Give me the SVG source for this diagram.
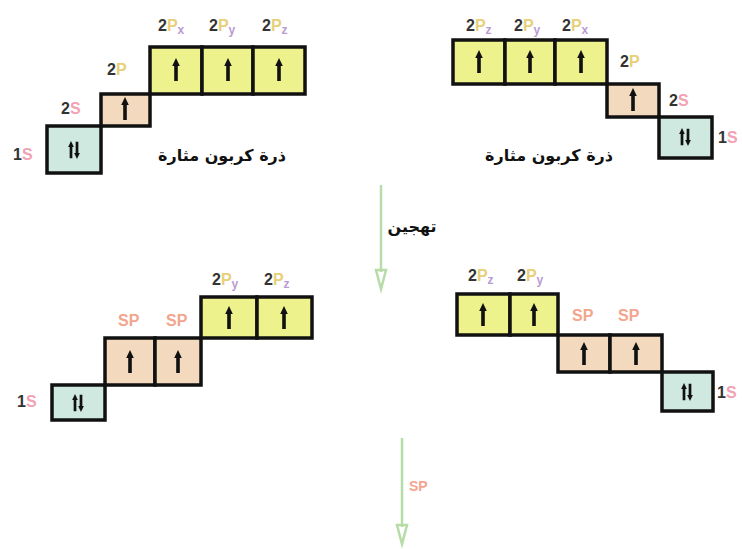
<svg xmlns="http://www.w3.org/2000/svg" width="742" height="549" viewBox="0 0 742 549">
<style>
.bx{stroke:#111;stroke-width:3.5}
.y{fill:#eef28c}.p{fill:#f3d9bd}.t{fill:#cfe9e1}
.lb{font-family:"Liberation Sans",Arial,sans-serif;font-weight:bold;font-size:16px;fill:#333}
.P{fill:#e8cf78}.sub{fill:#b99bd2;font-size:12px}
.S{fill:#f2a2b4}.sp{fill:#f3a58e}
.ar{font-family:"DejaVu Sans","Noto Sans",sans-serif;font-weight:bold;font-size:16px;fill:#111}
.cn{stroke:#b6dca8;stroke-width:2.5;fill:none}
</style>
<defs>
<g id="up"><rect x="-1.8" y="-5" width="3.6" height="16" fill="#111"/><polygon points="-3.8,-4 0,-12 3.8,-4" fill="#111"/></g>
<g id="pair"><use href="#up" transform="translate(-3,0) scale(0.75)"/><use href="#up" transform="translate(3,0) rotate(180) scale(0.75)"/></g>
</defs>

<g id="tl">
<rect class="bx t" x="47" y="126" width="54" height="47"/>
<rect class="bx p" x="101" y="94" width="49" height="32"/>
<rect class="bx y" x="150" y="47" width="52" height="47"/>
<rect class="bx y" x="202" y="47" width="51" height="47"/>
<rect class="bx y" x="253" y="47" width="52" height="47"/>
<use href="#up" x="176" y="70"/><use href="#up" x="228" y="70"/><use href="#up" x="279" y="70"/>
<use href="#up" x="125" y="109"/><use href="#pair" x="74" y="150"/>
<text class="lb" x="158" y="31">2<tspan class="P">P</tspan><tspan class="sub" dy="3">x</tspan></text>
<text class="lb" x="209" y="31">2<tspan class="P">P</tspan><tspan class="sub" dy="3">y</tspan></text>
<text class="lb" x="262" y="31">2<tspan class="P">P</tspan><tspan class="sub" dy="3">z</tspan></text>
<text class="lb" x="107" y="75">2<tspan class="P">P</tspan></text>
<text class="lb" x="61" y="114">2<tspan class="S">S</tspan></text>
<text class="lb" x="13" y="160">1<tspan class="S">S</tspan></text>
<text class="ar" x="222" y="161" text-anchor="middle">ذرة كربون مثارة</text>
</g>

<g id="tr">
<rect class="bx y" x="453" y="40" width="52" height="44"/>
<rect class="bx y" x="505" y="40" width="50" height="44"/>
<rect class="bx y" x="555" y="40" width="52" height="44"/>
<rect class="bx p" x="607" y="84" width="52" height="33"/>
<rect class="bx t" x="659" y="117" width="53" height="41"/>
<use href="#up" x="479" y="62"/><use href="#up" x="530" y="62"/><use href="#up" x="581" y="62"/>
<use href="#up" x="633" y="100"/><use href="#pair" x="685" y="137"/>
<text class="lb" x="466" y="31">2<tspan class="P">P</tspan><tspan class="sub" dy="3">z</tspan></text>
<text class="lb" x="514" y="31">2<tspan class="P">P</tspan><tspan class="sub" dy="3">y</tspan></text>
<text class="lb" x="562" y="31">2<tspan class="P">P</tspan><tspan class="sub" dy="3">x</tspan></text>
<text class="lb" x="620" y="67">2<tspan class="P">P</tspan></text>
<text class="lb" x="669" y="106">2<tspan class="S">S</tspan></text>
<text class="lb" x="718" y="143">1<tspan class="S">S</tspan></text>
<text class="ar" x="549" y="161" text-anchor="middle">ذرة كربون مثارة</text>
</g>

<g id="bl">
<rect class="bx t" x="52" y="385" width="53" height="35"/>
<rect class="bx p" x="105" y="338" width="50" height="47"/>
<rect class="bx p" x="155" y="338" width="46" height="47"/>
<rect class="bx y" x="201" y="297" width="56" height="41"/>
<rect class="bx y" x="257" y="297" width="55" height="41"/>
<use href="#up" x="130" y="362"/><use href="#up" x="178" y="362"/>
<use href="#up" x="229" y="318"/><use href="#up" x="284" y="318"/>
<use href="#pair" x="78" y="403"/>
<text class="lb sp" x="118" y="326">SP</text>
<text class="lb sp" x="166" y="326">SP</text>
<text class="lb" x="212" y="285">2<tspan class="P">P</tspan><tspan class="sub" dy="3">y</tspan></text>
<text class="lb" x="264" y="285">2<tspan class="P">P</tspan><tspan class="sub" dy="3">z</tspan></text>
<text class="lb" x="17" y="407">1<tspan class="S">S</tspan></text>
</g>

<g id="br">
<rect class="bx y" x="457" y="294" width="53" height="41"/>
<rect class="bx y" x="510" y="294" width="48" height="41"/>
<rect class="bx p" x="558" y="335" width="52" height="37"/>
<rect class="bx p" x="610" y="335" width="52" height="37"/>
<rect class="bx t" x="662" y="372" width="51" height="39"/>
<use href="#up" x="483" y="315"/><use href="#up" x="534" y="315"/>
<use href="#up" x="584" y="354"/><use href="#up" x="636" y="354"/>
<use href="#pair" x="687" y="392"/>
<text class="lb" x="468" y="281">2<tspan class="P">P</tspan><tspan class="sub" dy="3">z</tspan></text>
<text class="lb" x="517" y="281">2<tspan class="P">P</tspan><tspan class="sub" dy="3">y</tspan></text>
<text class="lb sp" x="572" y="321">SP</text>
<text class="lb sp" x="618" y="321">SP</text>
<text class="lb" x="717" y="398">1<tspan class="S">S</tspan></text>
</g>

<g id="connectors">
<line class="cn" x1="381" y1="185" x2="381" y2="272"/>
<polygon class="cn" points="376,270 386,270 381,289"/>
<text class="ar" x="412" y="232" text-anchor="middle">تهجين</text>
<line class="cn" x1="402" y1="438" x2="402" y2="527"/>
<polygon class="cn" points="397,525 407,525 402,544"/>
<text class="lb sp" x="409" y="491" style="font-size:14px">SP</text>
</g>
</svg>
